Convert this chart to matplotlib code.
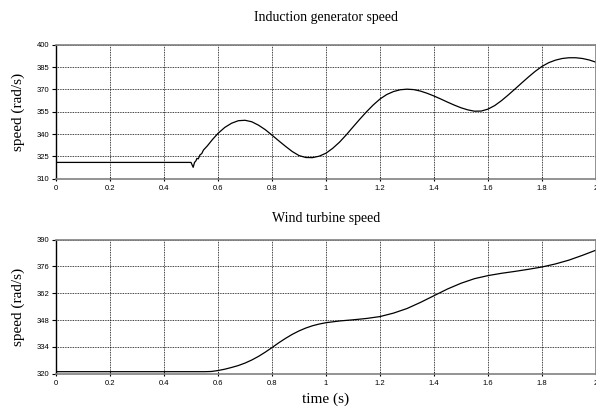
import matplotlib
matplotlib.use("Agg")
import matplotlib.pyplot as plt
import numpy as np

# -----------------------------
# Data
# -----------------------------
gen_t = [0.0, 0.5, 0.508, 0.513, 0.518, 0.522, 0.527, 0.533, 0.54, 0.546, 0.56, 0.58,
         0.6, 0.625, 0.65, 0.675, 0.7, 0.725, 0.75, 0.775, 0.8, 0.825, 0.85, 0.875,
         0.9, 0.925, 0.95, 0.975, 1.0, 1.025, 1.05, 1.075, 1.1, 1.125, 1.15, 1.175,
         1.2, 1.225, 1.25, 1.275, 1.3, 1.325, 1.35, 1.375, 1.4, 1.425, 1.45, 1.475,
         1.5, 1.525, 1.55, 1.575, 1.6, 1.625, 1.65, 1.675, 1.7, 1.725, 1.75, 1.775,
         1.8, 1.825, 1.85, 1.875, 1.9, 1.925, 1.95, 1.975, 2.0]
gen_speed = [321, 321, 317.7, 321, 322, 323.7, 323.4, 326, 327, 329.3, 332, 336.5,
             340.5, 344.5, 347.3, 349, 349.3, 348.3, 346, 343, 339.3, 335.5, 331.8, 328.3,
             325.6, 324.3, 324.2, 325.2, 327.2, 330.5, 334.6, 339.5, 344.8, 350, 355, 359.6,
             363.6, 366.6, 368.6, 369.8, 370.2, 369.9, 368.9, 367.4, 365.6, 363.6, 361.5, 359.5,
             357.7, 356.3, 355.4, 355.5, 356.8, 359.2, 362.5, 366.3, 370.3, 374.4, 378.4, 382.2,
             385.5, 388, 389.7, 390.8, 391.3, 391.3, 390.8, 389.8, 388.3]

wt_t = [0.0, 0.55, 0.575, 0.6, 0.625, 0.65, 0.675, 0.7, 0.725, 0.75, 0.775, 0.8,
        0.825, 0.85, 0.875, 0.9, 0.925, 0.95, 0.975, 1.0, 1.05, 1.1, 1.15, 1.2,
        1.25, 1.3, 1.35, 1.4, 1.45, 1.5, 1.55, 1.6, 1.65, 1.7, 1.75, 1.8,
        1.85, 1.9, 1.95, 2.0]
wt_speed = [321, 321, 321.1, 321.6, 322.3, 323.2, 324.2, 325.5, 327.1, 329.0, 331.2, 333.6,
            336.1, 338.4, 340.5, 342.3, 343.8, 345, 345.9, 346.6, 347.5, 348.1, 348.8, 349.8,
            351.6, 354.0, 357.2, 360.7, 364.2, 367.2, 369.6, 371.2, 372.4, 373.4, 374.5, 375.7,
            377.3, 379.3, 381.8, 384.5]

x_ticks = [0, 0.2, 0.4, 0.6, 0.8, 1, 1.2, 1.4, 1.6, 1.8, 2]
x_labels = ["0", "0.2", "0.4", "0.6", "0.8", "1", "1.2", "1.4", "1.6", "1.8", "2"]
gen_yticks = [310, 325, 340, 355, 370, 385, 400]
wt_yticks = [320, 334, 348, 362, 376, 390]

SERIF = "Liberation Serif"
SANS = "Liberation Sans"


def style_axes(ax, yticks):
    ax.set_xlim(0, 2)
    ax.set_ylim(yticks[0], yticks[-1])
    ax.set_xticks(x_ticks)
    ax.set_xticklabels(x_labels, fontfamily=SANS, fontsize=5.5)
    ax.set_yticks(yticks)
    ax.set_yticklabels([str(v) for v in yticks], fontfamily=SANS, fontsize=5.5)
    ax.tick_params(axis="x", direction="inout", length=3, width=0.8, pad=3)
    ax.tick_params(axis="y", length=3, width=0.8, pad=1.5)
    ax.grid(True, color="black", linestyle=(0, (1, 1)), linewidth=0.6)
    for side in ["top", "right", "bottom"]:
        ax.spines[side].set_color("#808080")
        ax.spines[side].set_linewidth(1.2)
    ax.spines["left"].set_color("black")
    ax.spines["left"].set_linewidth(1.0)
    ax.set_ylabel("speed (rad/s)", fontfamily=SERIF, fontsize=11, labelpad=9)


fig = plt.figure(figsize=(5.96, 4.11), dpi=100)
ax1 = fig.add_axes([0.094, 0.565, 0.906, 0.326])
ax2 = fig.add_axes([0.094, 0.091, 0.906, 0.326])

ax1.plot(gen_t, gen_speed, color="black", linewidth=0.9)
style_axes(ax1, gen_yticks)
ax1.set_title("Induction generator speed", fontfamily=SERIF, fontsize=10, pad=17)

ax2.plot(wt_t, wt_speed, color="black", linewidth=0.9)
style_axes(ax2, wt_yticks)
ax2.set_title("Wind turbine speed", fontfamily=SERIF, fontsize=10, pad=13)
ax2.set_xlabel("time (s)", fontfamily=SERIF, fontsize=11, labelpad=4)

fig.savefig("out.png", dpi=100)
